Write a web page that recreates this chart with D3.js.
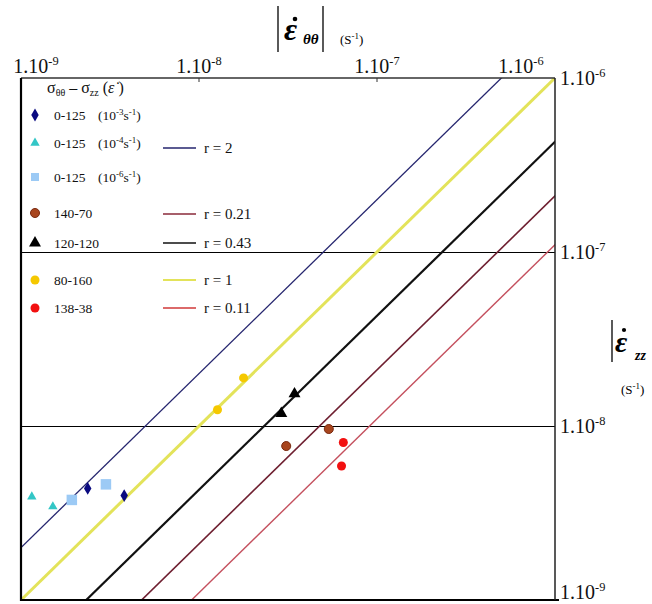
<!DOCTYPE html>
<html><head><meta charset="utf-8">
<script src="https://cdn.jsdelivr.net/npm/d3@7"></script>
<style>body{margin:0;background:#fff}svg{display:block}</style>
</head><body>
<svg id="c" width="652" height="604"></svg>
<script>
// ---- data ----
const tickValues = [1e-9, 1e-8, 1e-7, 1e-6];
const tickExponents = ["-9", "-8", "-7", "-6"];
const gridValues = [1e-7, 1e-8];

const ratioNames  = ["r = 2", "r = 0.21", "r = 0.43", "r = 1", "r = 0.11"];
const ratioValues = [2, 0.21, 0.43, 1, 0.11];

const seriesNames = ["0-125", "0-125", "0-125", "140-70", "120-120", "80-160", "138-38"];
const seriesRates = ["-3", "-4", "-6", null, null, null, null];
const diamondX = [2.37e-9, 3.80e-9], diamondY = [4.38e-9, 3.98e-9];
const cyanTriX = [1.15e-9, 1.51e-9], cyanTriY = [3.92e-9, 3.44e-9];
const squareX  = [1.93e-9, 3.00e-9], squareY  = [3.76e-9, 4.62e-9];
const brownX   = [3.09e-8, 5.36e-8], brownY   = [7.67e-9, 9.61e-9];
const blackTriX= [2.90e-8, 3.44e-8], blackTriY= [1.18e-8, 1.53e-8];
const yellowX  = [1.27e-8, 1.78e-8], yellowY  = [1.24e-8, 1.89e-8];
const redX     = [6.47e-8, 6.32e-8], redY     = [8.04e-9, 5.89e-9];

// ---- layout ----
const L = 21, R = 555, T = 78, B = 600;
const svg = d3.select("#c");
const serif = "'Liberation Serif','DejaVu Serif',serif";
const x = d3.scaleLog().domain([1e-9, 1e-6]).range([L, R]);
const y = d3.scaleLog().domain([1e-9, 1e-6]).range([B, T]);

svg.append("defs").append("clipPath").attr("id", "plot")
  .append("rect").attr("x", L).attr("y", T).attr("width", R - L).attr("height", B - T);

// gridlines
svg.selectAll(".grid").data(gridValues).enter().append("line")
  .attr("x1", L).attr("x2", R).attr("y1", d => Math.round(y(d)) + 0.5).attr("y2", d => Math.round(y(d)) + 0.5)
  .attr("stroke", "#000").attr("stroke-width", 1);

// ratio lines
const lineStyles = [
  {c: "#25256e", w: 1.3},
  {c: "#6e1f30", w: 1.6},
  {c: "#111111", w: 2.2},
  {c: "#e3e35a", w: 3},
  {c: "#c4505e", w: 1.4}
];
const gLines = svg.append("g").attr("clip-path", "url(#plot)");
ratioValues.forEach((r, i) => {
  const xs = [1e-10, 1e-5];
  gLines.append("path")
    .attr("d", d3.line().x(d => x(d)).y(d => y(d * r))(xs))
    .attr("fill", "none").attr("stroke", lineStyles[i].c).attr("stroke-width", lineStyles[i].w);
});

// frame
svg.append("line").attr("x1", L).attr("x2", R).attr("y1", T).attr("y2", T).attr("stroke", "#333").attr("stroke-width", 1.3);
svg.append("line").attr("x1", L).attr("x2", R + 4).attr("y1", B).attr("y2", B).attr("stroke", "#000").attr("stroke-width", 2.2);
svg.append("line").attr("x1", L).attr("x2", L).attr("y1", T).attr("y2", B + 1).attr("stroke", "#000").attr("stroke-width", 2.2);
svg.append("line").attr("x1", R).attr("x2", R).attr("y1", T).attr("y2", B).attr("stroke", "#222").attr("stroke-width", 1.5);

// top ticks
svg.selectAll(".tt").data(tickValues.slice(1, 3)).enter().append("line")
  .attr("x1", d => x(d)).attr("x2", d => x(d)).attr("y1", T).attr("y2", T + 4)
  .attr("stroke", "#333");

function powLabel(sel, exp, size) {
  sel.append("tspan").text("1.10");
  sel.append("tspan").attr("dy", -size * 0.42).attr("font-size", size * 0.62).text(exp);
}
const FS = 20;
// top tick labels
tickValues.forEach((v, i) => {
  const cx = Math.max(36, Math.min(521, x(v)));
  const t = svg.append("text").attr("x", cx).attr("y", 73).attr("text-anchor", "middle")
    .attr("font-family", serif).attr("font-size", FS).attr("fill", "#111");
  powLabel(t, tickExponents[i], FS);
});
// right tick labels
tickValues.forEach((v, i) => {
  const t = svg.append("text").attr("x", 560).attr("y", Math.min(y(v) + 7, 599))
    .attr("font-family", serif).attr("font-size", FS).attr("fill", "#111");
  powLabel(t, tickExponents[i], FS);
});

// top title |ε̇θθ| (S-1)
svg.append("line").attr("x1", 278).attr("x2", 278).attr("y1", 6).attr("y2", 52).attr("stroke", "#000").attr("stroke-width", 1.3);
svg.append("line").attr("x1", 323).attr("x2", 323).attr("y1", 6).attr("y2", 52).attr("stroke", "#000").attr("stroke-width", 1.3);
svg.append("text").attr("x", 284).attr("y", 40).attr("font-family", serif).attr("font-size", 32)
  .attr("font-weight", "bold").attr("font-style", "italic").text("ε");
svg.append("circle").attr("cx", 295).attr("cy", 19).attr("r", 2.3).attr("fill", "#000");
svg.append("text").attr("x", 303).attr("y", 44).attr("font-family", serif).attr("font-size", 15)
  .attr("font-weight", "bold").attr("font-style", "italic").text("θθ");
{
  const t = svg.append("text").attr("x", 340).attr("y", 44).attr("font-family", serif).attr("font-size", 13);
  t.append("tspan").text("(S");
  t.append("tspan").attr("dy", -5).attr("font-size", 9).text("-1");
  t.append("tspan").attr("dy", 5).text(")");
}

// right title |ε̇zz (S-1)
svg.append("line").attr("x1", 612).attr("x2", 612).attr("y1", 320).attr("y2", 362).attr("stroke", "#000").attr("stroke-width", 1.3);
svg.append("text").attr("x", 615).attr("y", 352).attr("font-family", serif).attr("font-size", 30)
  .attr("font-weight", "bold").attr("font-style", "italic").text("ε");
svg.append("circle").attr("cx", 624).attr("cy", 330).attr("r", 2.1).attr("fill", "#000");
svg.append("text").attr("x", 635).attr("y", 360).attr("font-family", serif).attr("font-size", 14)
  .attr("font-weight", "bold").attr("font-style", "italic").text("zz");
{
  const t = svg.append("text").attr("x", 621).attr("y", 394).attr("font-family", serif).attr("font-size", 13);
  t.append("tspan").text("(S");
  t.append("tspan").attr("dy", -5).attr("font-size", 9).text("-1");
  t.append("tspan").attr("dy", 5).text(")");
}

// markers
const sym = {
  diamond: d3.symbol().type(d3.symbolDiamond).size(48),
  cyanTri: d3.symbol().type(d3.symbolTriangle).size(38),
  square: d3.symbol().type(d3.symbolSquare).size(110),
  circle: d3.symbol().type(d3.symbolCircle).size(64),
  blackTri: d3.symbol().type(d3.symbolTriangle).size(62)
};
const series = [
  {xs: diamondX, ys: diamondY, s: sym.diamond, fill: "#0a0a80", stroke: "none"},
  {xs: cyanTriX, ys: cyanTriY, s: sym.cyanTri, fill: "#33c6c6", stroke: "none"},
  {xs: squareX, ys: squareY, s: sym.square, fill: "#9ccaf5", stroke: "none"},
  {xs: brownX, ys: brownY, s: sym.circle, fill: "#a8451e", stroke: "#7a2a10"},
  {xs: blackTriX, ys: blackTriY, s: sym.blackTri, fill: "#000", stroke: "none"},
  {xs: yellowX, ys: yellowY, s: sym.circle, fill: "#f5c800", stroke: "none"},
  {xs: redX, ys: redY, s: sym.circle, fill: "#f21010", stroke: "none"}
];
series.forEach(se => {
  svg.append("g").selectAll("path").data(se.xs.map((v, i) => [v, se.ys[i]])).enter().append("path")
    .attr("d", se.s).attr("transform", d => `translate(${x(d[0])},${y(d[1])})`)
    .attr("fill", se.fill).attr("stroke", se.stroke).attr("stroke-width", 1);
});

// legend
{
  const t = svg.append("text").attr("x", 47).attr("y", 93).attr("font-family", serif).attr("font-size", 16).attr("fill", "#111");
  t.append("tspan").text("σ");
  t.append("tspan").attr("dy", 3).attr("font-size", 10).text("θθ");
  t.append("tspan").attr("dy", -3).text(" – σ");
  t.append("tspan").attr("dy", 3).attr("font-size", 10).text("zz");
  t.append("tspan").attr("dy", -3).text(" (");
  t.append("tspan").attr("font-style", "italic").text("ε\u0307");
  t.append("tspan").text("   )");
}
const legendRowY = [115, 143, 177, 213, 243, 280, 308];
const legendSym = [sym.diamond, sym.cyanTri, d3.symbol().type(d3.symbolSquare).size(64), sym.circle, sym.blackTri, sym.circle, sym.circle];
series.forEach((se, i) => {
  svg.append("path").attr("d", legendSym[i]).attr("transform", `translate(35,${legendRowY[i]})`)
    .attr("fill", se.fill).attr("stroke", se.stroke);
  svg.append("text").attr("x", 54).attr("y", legendRowY[i] + 5).attr("font-family", serif)
    .attr("font-size", 13.5).attr("fill", "#111").text(seriesNames[i]);
  if (seriesRates[i]) {
    const t = svg.append("text").attr("x", 98).attr("y", legendRowY[i] + 5).attr("font-family", serif)
      .attr("font-size", 13.5).attr("fill", "#111");
    t.append("tspan").text("(10");
    t.append("tspan").attr("dy", -5).attr("font-size", 9).text(seriesRates[i]);
    t.append("tspan").attr("dy", 5).text("s");
    t.append("tspan").attr("dy", -5).attr("font-size", 9).text("-1");
    t.append("tspan").attr("dy", 5).text(")");
  }
});
const lineLegendY = [148, 214, 243, 280, 308];
const lineLegendColors = ["#25256e", "#8a2a3a", "#111", "#e3e35a", "#d03838"];
ratioNames.forEach((n, i) => {
  svg.append("line").attr("x1", 163).attr("x2", 196).attr("y1", lineLegendY[i]).attr("y2", lineLegendY[i])
    .attr("stroke", lineLegendColors[i]).attr("stroke-width", i === 3 ? 2 : 1.6);
  svg.append("text").attr("x", 204).attr("y", lineLegendY[i] + 5).attr("font-family", serif)
    .attr("font-size", 15).attr("fill", "#111").text(n);
});
</script>
</body></html>
